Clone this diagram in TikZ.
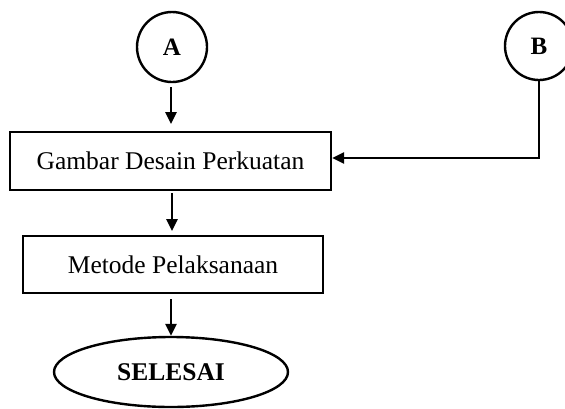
\documentclass[tikz,border=0pt]{standalone}
\usepackage{fontspec}
\setmainfont{Liberation Serif}
\usetikzlibrary{shapes.geometric,arrows.meta}
\begin{document}
\begin{tikzpicture}[x=1pt,y=-1pt,
  line width=2.4pt,
  conn/.style={line width=2.5pt,-{Triangle[length=12pt,width=11pt]}},
  boxnode/.style={draw,rectangle,minimum height=58pt,font=\fontsize{25.5}{30}\selectfont,inner sep=0pt},
  conn2/.style={draw,circle,font=\fontsize{25}{28}\selectfont\bfseries,inner sep=0pt}]
\useasboundingbox (0,0) rectangle (565,408);
\node[conn2,minimum size=70pt] (A) at (172,47) {A};
\node[conn2,minimum size=68pt] (B) at (539,46) {B};
\node[boxnode,minimum width=321pt] (g) at (170.5,161) {Gambar Desain Perkuatan};
\node[boxnode,minimum width=300pt,minimum height=57pt] (m) at (173,264.5) {Metode Pelaksanaan};
\node[draw,ellipse,minimum width=234pt,minimum height=70pt,inner sep=0pt,font=\fontsize{25.5}{30}\selectfont\bfseries] (s) at (171,372) {SELESAI};
\coordinate (a1) at (171,87);
\coordinate (a2) at (171,124);
\draw[conn] (a1) -- (a2);
\coordinate (b1) at (172,193);
\coordinate (b2) at (172,231);
\draw[conn] (b1) -- (b2);
\coordinate (c1) at (171,299);
\draw[conn] (c1) -- (s.north -| c1);
\coordinate (bc) at (539,158);
\draw[conn] (B.south) -- (bc) -- (g.east |- bc);
\end{tikzpicture}
\end{document}
